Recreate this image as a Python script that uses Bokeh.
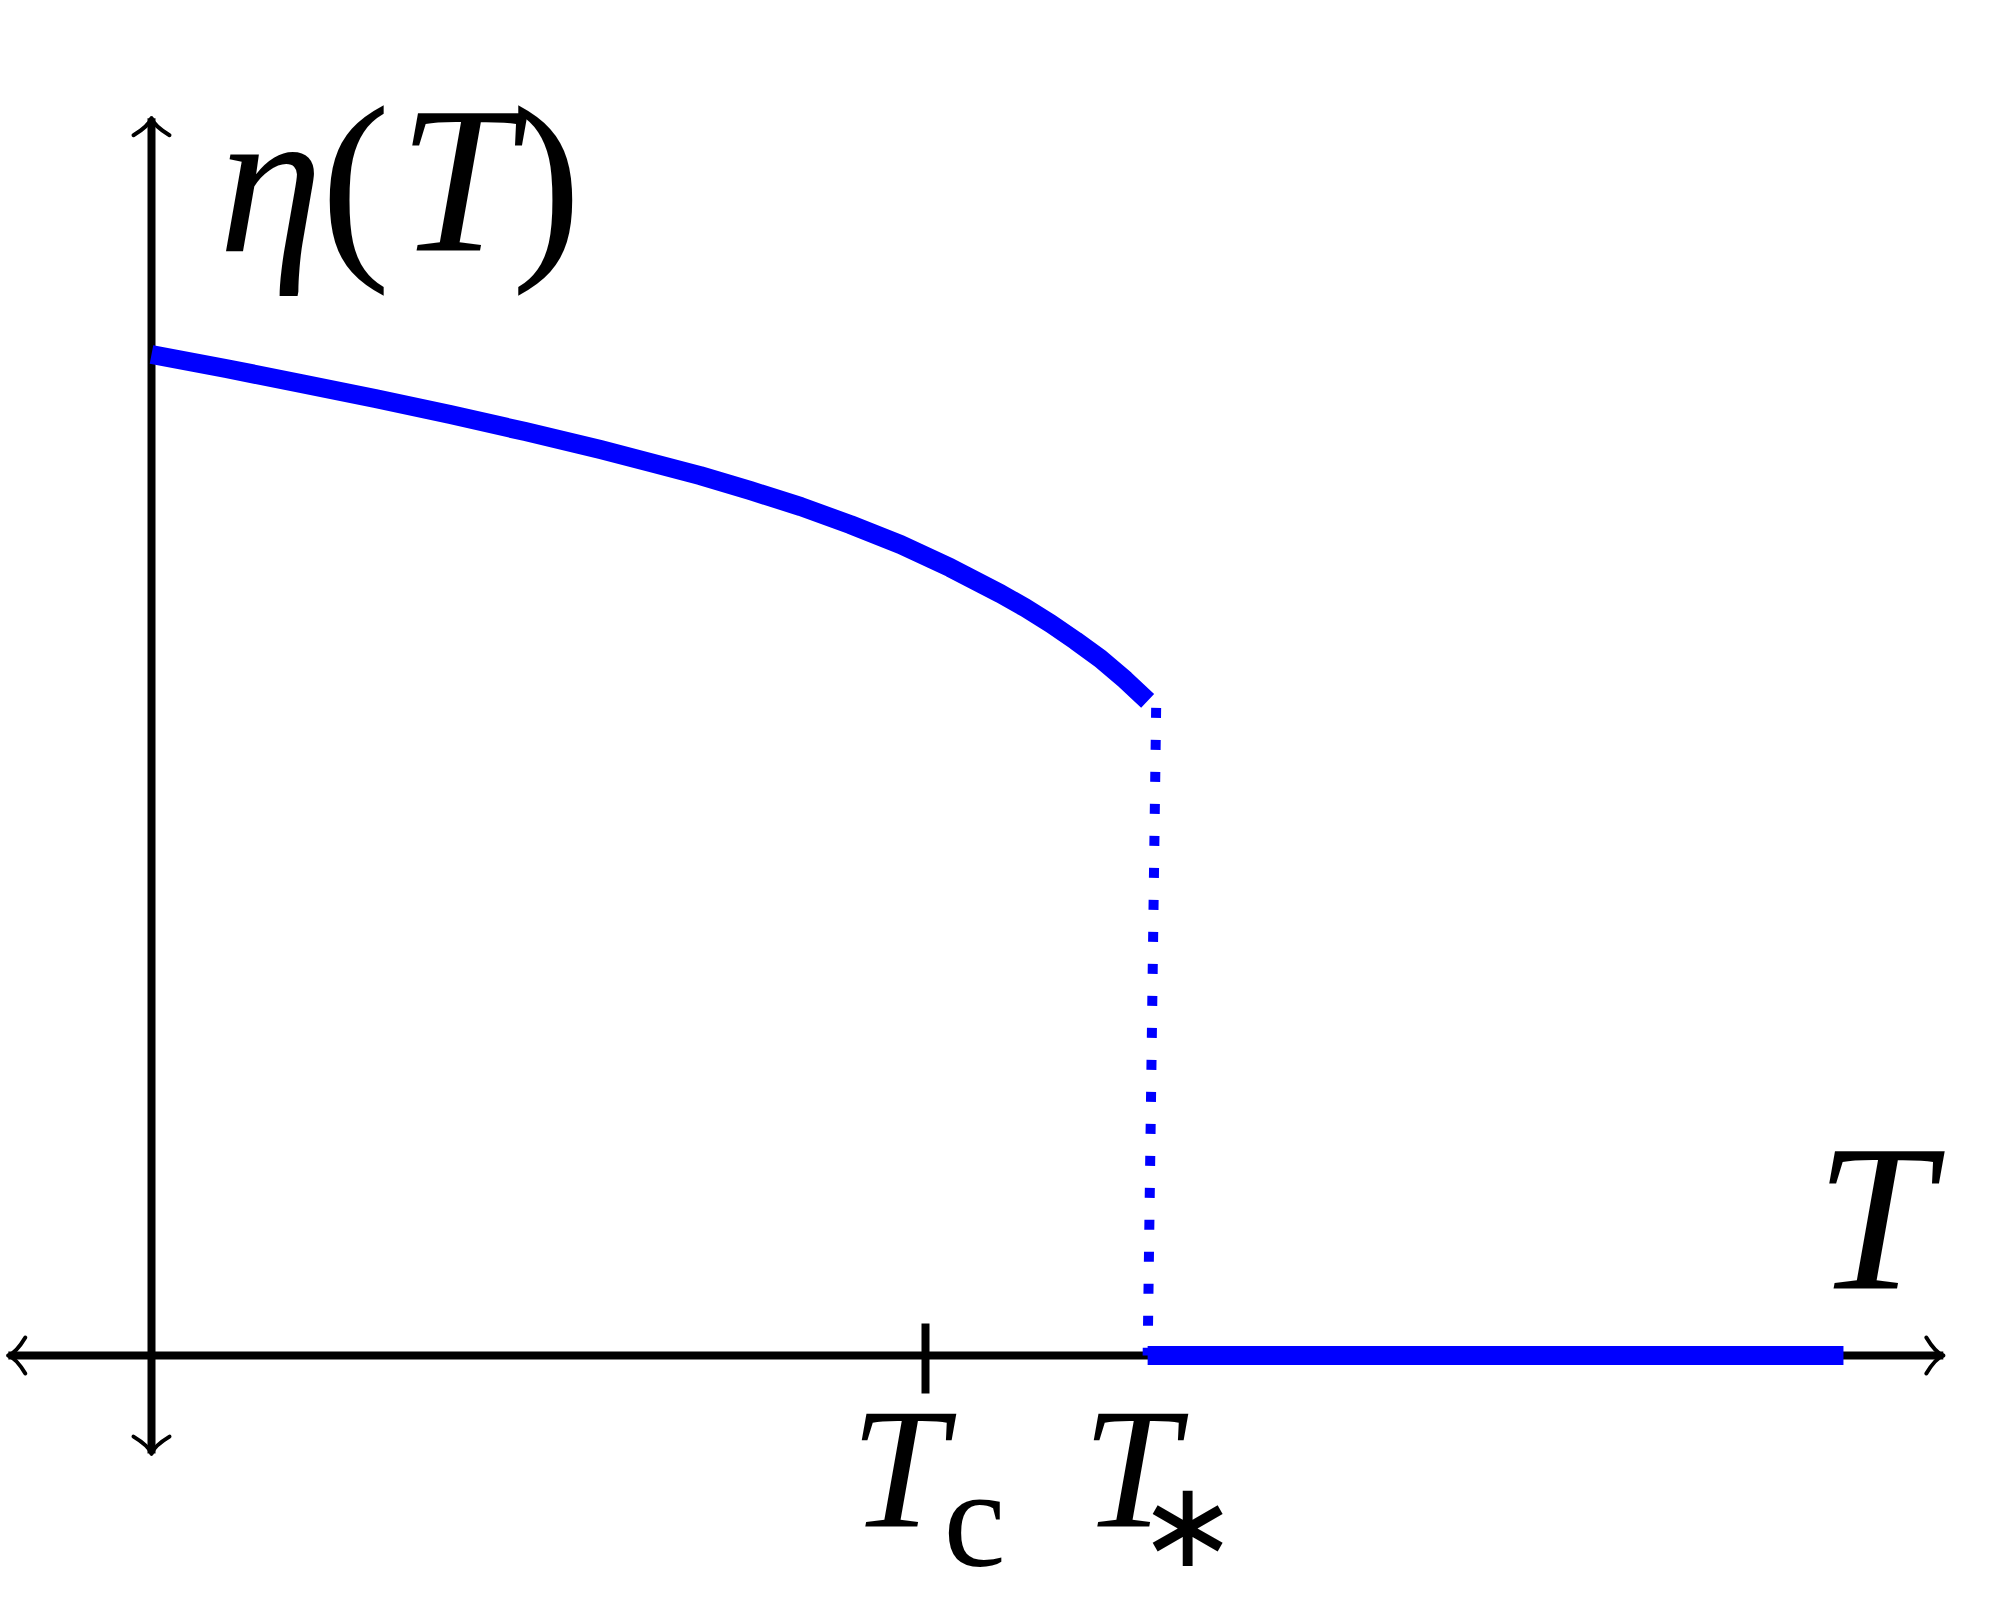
from bokeh.plotting import figure
from bokeh.models import Range1d
from bokeh.embed import file_html
from bokeh.resources import INLINE
from bokeh.core.properties import value

# ---------------- data (schematic units: T_c = 1, eta(0) = 1) ----------------
T_c = 1.0
T_star = 1.287
T_max = 2.186
T_low = [0.000, 0.096, 0.193, 0.289, 0.386, 0.483, 0.580, 0.645, 0.709, 0.774,
         0.839, 0.903, 0.968, 1.032, 1.097, 1.129, 1.162, 1.194, 1.226, 1.258, 1.287]
eta_low = [1.000, 0.986, 0.971, 0.956, 0.940, 0.923, 0.905, 0.892, 0.879, 0.864,
           0.848, 0.830, 0.810, 0.787, 0.761, 0.747, 0.731, 0.714, 0.696, 0.675, 0.654]
T_jump = [1.298, 1.287]
eta_jump = [0.647, 0.0]
T_high = [T_star, T_max]
eta_high = [0.0, 0.0]
axis_T = [-0.185, 2.315]
axis_eta = [-0.098, 1.236]

# ---------------- layout ----------------
W, H = 2000, 1600
OX, OY = 151, 1355          # pixel of the origin
SX, SY = 774.0, 1001.0      # pixels per unit

def tx(px):   # x pixel -> T
    return (px - OX) / SX

def ey(py):   # y pixel -> eta
    return (OY - py) / SY

p = figure(width=W, height=H, output_backend="svg", toolbar_location=None,
           x_range=Range1d(tx(0), tx(W)),
           y_range=Range1d(ey(H), ey(0)),
           x_axis_location=None, y_axis_location=None, min_border=0,
           background_fill_color="white", border_fill_color="white")
p.outline_line_color = None
p.grid.visible = False

BLACK = "black"
BLUE = "#0000ff"

# axes
p.line(axis_T, [0, 0], line_color=BLACK, line_width=8)
p.line([0, 0], axis_eta, line_color=BLACK, line_width=8)

# arrow heads (curved, LaTeX style)
HEAD_L, HEAD_W = 17.0, 18.0
CTRL_L, CTRL_W = 8.0, 3.0

def head(tip_x, tip_y, dx, dy):
    nx, ny = -dy, dx
    x0, y0, x1, y1, cx, cy = [], [], [], [], [], []
    for s in (1, -1):
        ex = -HEAD_L * dx + s * HEAD_W * nx
        eyy = -HEAD_L * dy + s * HEAD_W * ny
        kx = -CTRL_L * dx + s * CTRL_W * nx
        ky = -CTRL_L * dy + s * CTRL_W * ny
        x0.append(tip_x + ex / SX); y0.append(tip_y - eyy / SY)
        x1.append(tip_x); y1.append(tip_y)
        cx.append(tip_x + kx / SX); cy.append(tip_y - ky / SY)
    p.quadratic(x0=x0, y0=y0, x1=x1, y1=y1, cx=cx, cy=cy,
                line_color=BLACK, line_width=4, line_cap="round")

head(axis_T[1], 0, 1, 0)
head(axis_T[0], 0, -1, 0)
head(0, axis_eta[1], 0, -1)
head(0, axis_eta[0], 0, 1)

# tick at T_c
p.line([T_c, T_c], [32 / SY, -38 / SY], line_color=BLACK, line_width=8)

# order parameter
p.line(T_low, eta_low, line_color=BLUE, line_width=19, line_cap="butt", line_join="round")
p.line(T_jump, eta_jump, line_color=BLUE, line_width=10, line_dash="10 22", line_cap="butt")
p.line(T_high, eta_high, line_color=BLUE, line_width=19, line_cap="butt")

# ---------------- texts ----------------
SERIF = value("Liberation Serif")
BASE_FIX = 0.32   # em correction of the rendered baseline

def txt(px, py, s, size, italic=True, font=SERIF):
    p.text(x=[tx(px)], y=[ey(py - BASE_FIX * size)], text=[s], text_font=font,
           text_font_style="italic" if italic else "normal",
           text_font_size=f"{size}px", text_color=BLACK,
           text_align="left", text_baseline="alphabetic")

# eta(T)
txt(218, 247, "η", 210)
txt(320, 247, "(", 210, italic=False)
txt(398, 247, "T", 210)
txt(511, 247, ")", 210, italic=False)

# axis label T
txt(1815, 1285, "T", 210)

# T_c
txt(850, 1523, "T", 172)
txt(943, 1563, "c", 140, italic=False)

# T_*
txt(1082, 1523, "T", 172)
txt(1137, 1562, "∗", 120, italic=False, font=value("DejaVu Sans"))

open("out.html", "w").write(file_html(p, INLINE))
